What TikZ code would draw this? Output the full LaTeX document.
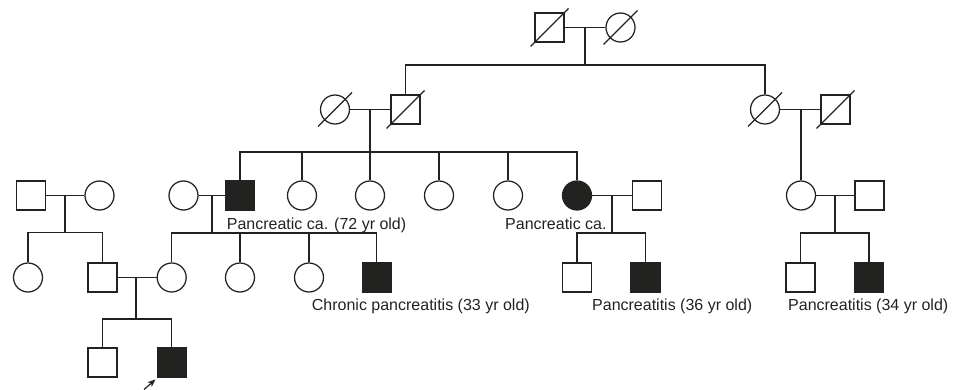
\documentclass[tikz,border=0pt]{standalone}
\usepackage{fontspec}
\setmainfont{Liberation Sans}
\usetikzlibrary{arrows.meta}
\definecolor{ink}{RGB}{34,34,32}
\newcommand\decsq[1]{\draw[line] ([shift={(-19,19)}]#1.center) -- ([shift={(19,-19)}]#1.center);}
\newcommand\deccirc[1]{\draw[line] ([shift={(-17,17)}]#1.center) -- ([shift={(17,-17)}]#1.center);}
\begin{document}
\begin{tikzpicture}[x=1pt,y=-1pt,
  person/.style={draw=ink, line width=1.25pt, minimum size=29pt, inner sep=0pt},
  male/.style={person, rectangle},
  female/.style={person, circle},
  aff/.style={fill=ink},
  line/.style={draw=ink, line width=1.25pt},
  lbl/.style={font=\fontsize{16}{19}\selectfont, inner sep=0pt, text=ink, anchor=base west}]
\useasboundingbox (0,0) rectangle (959,390);
% Generation I
\node[male]   (I1) at (549.5,27.5) {};
\node[female] (I2) at (620.5,27.5) {};
\decsq{I1} \deccirc{I2}
\draw[line] (I1) -- (I2);
\coordinate (mI) at (585,27.5);
\coordinate (sI) at (585,65);
\draw[line] (mI) -- (sI);
% Generation II
\node[female] (II1) at (335,109.5) {};
\node[male]   (II2) at (405.5,109.5) {};
\node[female] (II3) at (765,109.5) {};
\node[male]   (II4) at (835.5,109.5) {};
\decsq{II2} \deccirc{II1} \deccirc{II3} \decsq{II4}
\draw[line] (II1) -- (II2);
\draw[line] (II3) -- (II4);
\draw[line] (II2.north) |- (sI) -| (II3.north);
% Generation III
\node[male]        (IIIa) at (31,195.5) {};
\node[female]      (IIIb) at (99.5,195.5) {};
\node[female]      (IIIc) at (183.5,195.5) {};
\node[male,aff]    (III1) at (240,195.5) {};
\node[female]      (III2) at (302,195.5) {};
\node[female]      (III3) at (370,195.5) {};
\node[female]      (III4) at (439,195.5) {};
\node[female]      (III5) at (508,195.5) {};
\node[female,aff]  (III6) at (577,195.5) {};
\node[male]        (III7) at (647,195.5) {};
\node[female]      (III8) at (801,195.5) {};
\node[male]        (III9) at (869.5,195.5) {};
\draw[line] (IIIa) -- (IIIb);
\draw[line] (IIIc) -- (III1);
\draw[line] (III6) -- (III7);
\draw[line] (III8) -- (III9);
% sibship of II1 x II2
\coordinate (mII) at (370,109.5);
\coordinate (sII) at (370,152);
\draw[line] (mII) -- (sII);
\draw[line] (III1.north) |- (sII) -| (III6.north);
\foreach \c in {III2,III3,III4,III5} \draw[line] (\c.north) -- (\c.north |- sII);
% II3 x II4 single child
\coordinate (mII2) at (801,109.5);
\draw[line] (mII2) -- (III8.north);
% Generation IV
\node[female]    (IV1)  at (28,277.5) {};
\node[male]      (IV2)  at (102.5,277.5) {};
\node[female]    (IV3)  at (171.7,277.5) {};
\node[female]    (IV4)  at (240,277.5) {};
\node[female]    (IV5)  at (309,277.5) {};
\node[male,aff]  (IV6)  at (376.7,277.5) {};
\node[male]      (IV7)  at (577,277.5) {};
\node[male,aff]  (IV8)  at (645.5,277.5) {};
\node[male]      (IV9)  at (800.5,277.5) {};
\node[male,aff]  (IV10) at (869,277.5) {};
\draw[line] (IV2) -- (IV3);
% IIIa x IIIb
\coordinate (mA) at (65,195.5);
\coordinate (sA) at (65,232.5);
\draw[line] (mA) -- (sA);
\draw[line] (IV1.north) |- (sA) -| (IV2.north);
% IIIc x III1
\coordinate (mB) at (212,195.5);
\coordinate (sB) at (212,233);
\draw[line] (mB) -- (sB);
\draw[line] (IV3.north) |- (sB) -| (IV6.north);
\foreach \c in {IV4,IV5} \draw[line] (\c.north) -- (\c.north |- sB);
% III6 x III7
\coordinate (mC) at (612,195.5);
\coordinate (sC) at (612,233);
\draw[line] (mC) -- (sC);
\draw[line] (IV7.north) |- (sC) -| (IV8.north);
% III8 x III9
\coordinate (mD) at (835,195.5);
\coordinate (sD) at (835,233);
\draw[line] (mD) -- (sD);
\draw[line] (IV9.north) |- (sD) -| (IV10.north);
% Generation V
\node[male]     (V1) at (102.5,362.5) {};
\node[male,aff] (V2) at (171.7,362.5) {};
\coordinate (mE) at (136,277.5);
\coordinate (sE) at (136,319);
\draw[line] (mE) -- (sE);
\draw[line] (V1.north) |- (sE) -| (V2.north);
% proband arrow
\coordinate (arrtail) at (144,389.5);
\coordinate (arrtip) at (155.5,379.5);
\draw[ink, line width=1.2pt, -{Stealth[length=8pt,width=6.5pt]}] (arrtail) -- (arrtip);
% labels
\node[lbl] (L1) at (226.7,229.3) {Pancreatic ca. (72 yr old)};
\node[lbl] (L2) at (505,229.3) {Pancreatic ca.};
\node[lbl] (L3) at (311.7,311) {Chronic pancreatitis (33 yr old)};
\node[lbl] (L4) at (592,311) {Pancreatitis (36 yr old)};
\node[lbl] (L5) at (788,311) {Pancreatitis (34 yr old)};
\end{tikzpicture}
\end{document}
